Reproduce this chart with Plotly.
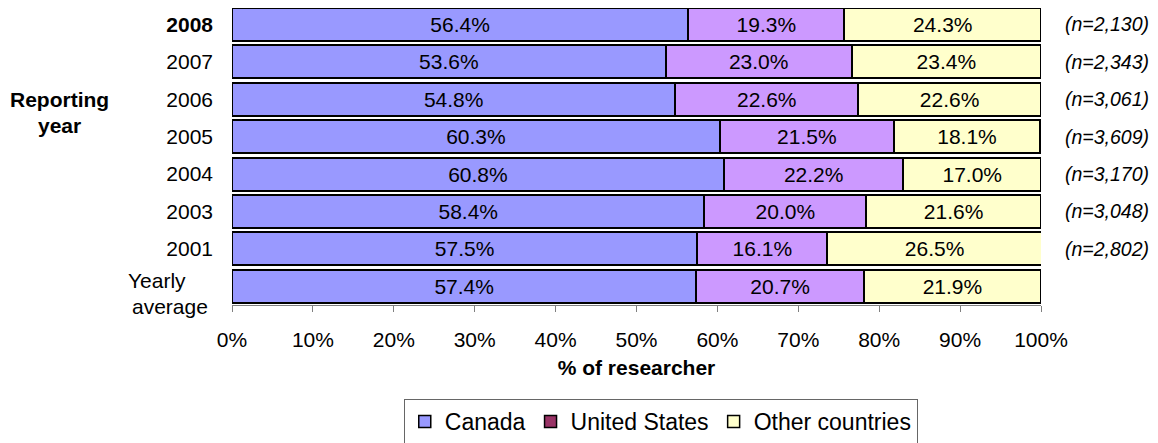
import plotly.graph_objects as go

years = ["<b>2008</b>", "2007", "2006", "2005", "2004", "2003", "2001", "Yearly average"]
year_ticktext = ["<b>2008</b>", "2007", "2006", "2005", "2004", "2003", "2001", ""]
canada = [56.4, 53.6, 54.8, 60.3, 60.8, 58.4, 57.5, 57.4]
united_states = [19.3, 23.0, 22.6, 21.5, 22.2, 20.0, 16.1, 20.7]
other = [24.3, 23.4, 22.6, 18.1, 17.0, 21.6, 26.5, 21.9]
n_labels = ["(n=2,130)", "(n=2,343)", "(n=3,061)", "(n=3,609)", "(n=3,170)",
            "(n=3,048)", "(n=2,802)", ""]
series_names = ["Canada", "United States", "Other countries"]
bar_colors = ["#9999FF", "#CC99FF", "#FFFFCC"]
legend_colors = ["#9999FF", "#993366", "#FFFFCC"]

FONT = "Liberation Sans, Arial, sans-serif"
FS = 21

fig = go.Figure()
for name, vals, col in zip(series_names, [canada, united_states, other], bar_colors):
    fig.add_trace(go.Bar(
        y=years, x=vals, orientation="h", name=name,
        marker=dict(color=col, line=dict(color="black", width=2)),
        texttemplate="%{x:.1f}%", textposition="inside",
        insidetextanchor="middle",
        textfont=dict(family=FONT, size=FS, color="black"),
        showlegend=False, hoverinfo="skip",
    ))
# legend-only entries (the legend swatch colours differ from the bars in the original)
for i, (name, col) in enumerate(zip(series_names, legend_colors)):
    fig.add_trace(go.Bar(
        y=[None], x=[None], orientation="h", name=name,
        marker=dict(color=col, line=dict(color="black", width=1.5)),
        showlegend=True, legendrank=i + 1, hoverinfo="skip",
    ))

for i, lab in enumerate(n_labels):
    if lab:
        fig.add_annotation(x=1.027, xref="paper", y=i, yref="y", text="<i>" + lab + "</i>",
                           showarrow=False, xanchor="left",
                           font=dict(family=FONT, size=19.5, color="black"))

# two-line category label for the yearly average row
fig.add_annotation(x=-0.0544, xref="paper", y=7, yref="y", yshift=6, text="Yearly",
                   showarrow=False, xanchor="right", yanchor="middle",
                   font=dict(family=FONT, size=FS, color="black"))
fig.add_annotation(x=-0.0272, xref="paper", y=7, yref="y", yshift=-20, text="average",
                   showarrow=False, xanchor="right", yanchor="middle",
                   font=dict(family=FONT, size=FS, color="black"))

fig.add_annotation(x=-0.2138, xref="paper", y=0.692, yref="paper", text="<b>Reporting</b>",
                   showarrow=False, xanchor="center", yanchor="middle",
                   font=dict(family=FONT, size=FS, color="black"))
fig.add_annotation(x=-0.2138, xref="paper", y=0.605, yref="paper", text="<b>year</b>",
                   showarrow=False, xanchor="center", yanchor="middle",
                   font=dict(family=FONT, size=FS, color="black"))

fig.update_layout(
    width=1150, height=435,
    margin=dict(l=224, r=117, t=0, b=138, autoexpand=False),
    barmode="stack", bargap=0.117,
    plot_bgcolor="white", paper_bgcolor="white",
    font=dict(family=FONT, size=FS, color="black"),
    uniformtext=dict(minsize=FS, mode="show"),
    xaxis=dict(range=[0, 100], tickvals=list(range(0, 101, 10)),
               ticktext=[f"{v}%" for v in range(0, 101, 10)],
               ticks="outside", ticklen=6, tickcolor="#808080",
               showline=True, linecolor="#808080", linewidth=1,
               showgrid=False, zeroline=False, ticklabelstandoff=10,
               title=dict(text="<b>% of researcher</b>", standoff=10,
                          font=dict(family=FONT, size=FS)),
               tickfont=dict(family=FONT, size=FS)),
    yaxis=dict(type="category", categoryorder="array", categoryarray=years,
               range=[7.5, -0.44], tickvals=years, ticktext=year_ticktext,
               showgrid=False, showline=False, ticks="", ticklabelstandoff=18,
               tickfont=dict(family=FONT, size=FS)),
    legend=dict(orientation="h", x=0.530, xanchor="center", y=-0.3165, yanchor="top",
                bordercolor="#666666", borderwidth=1, bgcolor="white",
                font=dict(family=FONT, size=23), traceorder="normal"),
)

fig.write_html("out.html")
